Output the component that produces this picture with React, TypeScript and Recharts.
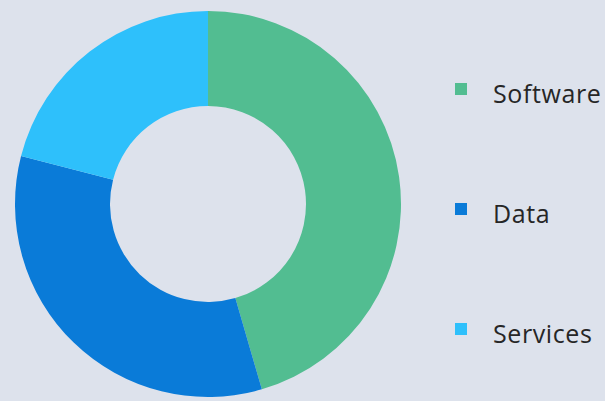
import { PieChart, Pie, Cell, Legend } from 'recharts';

const categories = ['Software', 'Data', 'Services'];
const shares = [45.5, 33.5, 21];
const colors = ['#52bd91', '#0a7bd8', '#2ec0fb'];

const data = categories.map((name, i) => ({ name, value: shares[i] }));

function SideLegend() {
  return (
    <div style={{ display: 'flex', flexDirection: 'column' }}>
      {categories.map((name, i) => (
        <div key={name} style={{ display: 'flex', alignItems: 'center', height: 120 }}>
          <span style={{ width: 12, height: 12, background: colors[i], display: 'inline-block', marginRight: 26, position: 'relative', top: -4 }} />
          <span style={{ fontSize: 25, letterSpacing: 0.6, color: '#262626', fontFamily: '"Open Sans", sans-serif' }}>{name}</span>
        </div>
      ))}
    </div>
  );
}

export default function App() {
  return (
    <div style={{ position: 'absolute', left: 0, top: 0, width: 605, height: 401, background: '#dde2ec', overflow: 'hidden' }}>
      <PieChart width={605} height={401} margin={{ top: 0, right: 0, bottom: 0, left: 0 }}>
        <Pie
          data={data}
          dataKey="value"
          nameKey="name"
          cx={208}
          cy={204}
          innerRadius={98}
          outerRadius={193}
          startAngle={90}
          endAngle={-270}
          stroke="none"
          isAnimationActive={false}
        >
          {data.map((d, i) => (
            <Cell key={d.name} fill={colors[i]} />
          ))}
        </Pie>
        <Legend
          layout="vertical"
          align="right"
          verticalAlign="top"
          wrapperStyle={{ left: 455, top: 33, width: 150 }}
          content={<SideLegend />}
        />
      </PieChart>
    </div>
  );
}
